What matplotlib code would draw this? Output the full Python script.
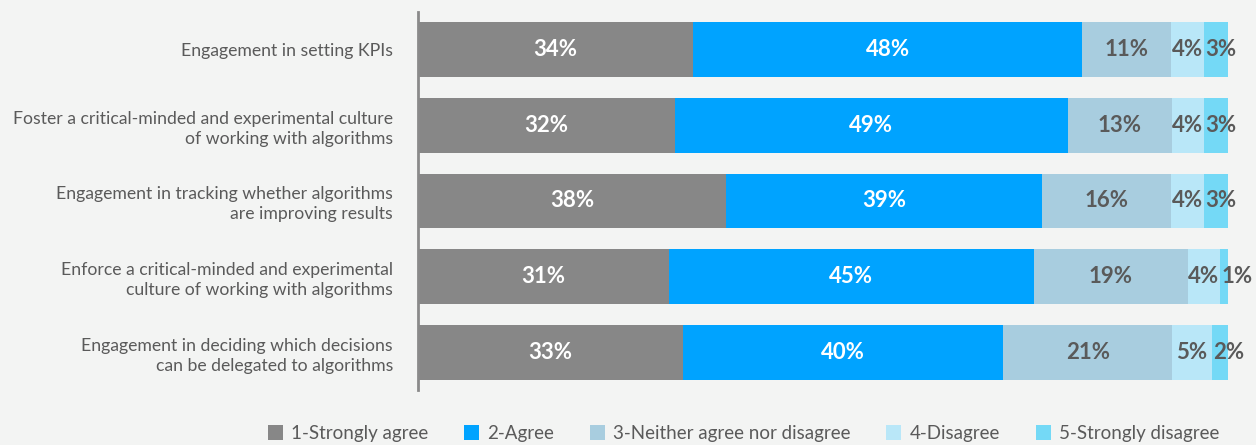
import matplotlib
matplotlib.use("Agg")
import matplotlib.pyplot as plt
import numpy as np

# data
statements = [
    "Engagement in setting KPIs",
    "Foster a critical-minded and experimental culture\nof working with algorithms",
    "Engagement in tracking whether algorithms\nare improving results",
    "Enforce a critical-minded and experimental\nculture of working with algorithms",
    "Engagement in deciding which decisions\ncan be delegated to algorithms",
]
strongly_agree = [34, 32, 38, 31, 33]
agree = [48, 49, 39, 45, 40]
neither = [11, 13, 16, 19, 21]
disagree = [4, 4, 4, 4, 5]
strongly_disagree = [3, 3, 3, 1, 2]

categories = ["1-Strongly agree", "2-Agree", "3-Neither agree nor disagree",
              "4-Disagree", "5-Strongly disagree"]
colors = ["#878787", "#00A3FF", "#A8CDDF", "#B9E7F8", "#74D9F6"]
text_colors = ["white", "white", "#5a5a5a", "#5a5a5a", "#5a5a5a"]

bg = "#F3F4F3"
fig = plt.figure(figsize=(12.56, 4.45), dpi=100, facecolor=bg)
ax = fig.add_axes([418 / 1256, 55 / 445, 810 / 1256, 378 / 445], facecolor=bg)

series = np.array([strongly_agree, agree, neither, disagree, strongly_disagree], dtype=float)
# rows were rounded, so scale each row to fill the bar
shares = series / series.sum(axis=0) * 100
y = np.arange(len(statements))
left = np.zeros(len(statements))

for i in range(len(categories)):
    ax.barh(y, shares[i], left=left, height=0.726, color=colors[i],
            label=categories[i], linewidth=0)
    for j in range(len(statements)):
        # last small segment: label starts at the segment edge
        if i == len(categories) - 1:
            xpos, ha = left[j] + 0.15, "left"
        else:
            xpos, ha = left[j] + shares[i][j] / 2, "center"
        ax.text(xpos, y[j], "%d%%" % series[i][j],
                ha=ha, va="center", fontsize=16, fontweight="bold",
                color=text_colors[i], family="Lato")
    left += shares[i]

ax.set_xlim(0, 100)
ax.set_ylim(4.495, -0.495)
ax.set_yticks(y)
ax.set_yticklabels(statements, fontsize=12.7, color="#5a5a5a", family="Lato",
                   linespacing=1.3)
ax.tick_params(axis="y", length=0, pad=18)
ax.set_xticks([])
for s in ["top", "right", "bottom"]:
    ax.spines[s].set_visible(False)
ax.spines["left"].set_color("#8a8a8a")
ax.spines["left"].set_linewidth(2)

leg = fig.legend(loc="center", bbox_to_anchor=(0.592, 0.026), ncol=5,
                 frameon=False, handlelength=0.8, handleheight=0.8,
                 handletextpad=0.45, columnspacing=1.9,
                 prop={"family": "Lato", "size": 13.5})
for t in leg.get_texts():
    t.set_color("#5a5a5a")

fig.savefig("out.png", dpi=100, facecolor=bg)
